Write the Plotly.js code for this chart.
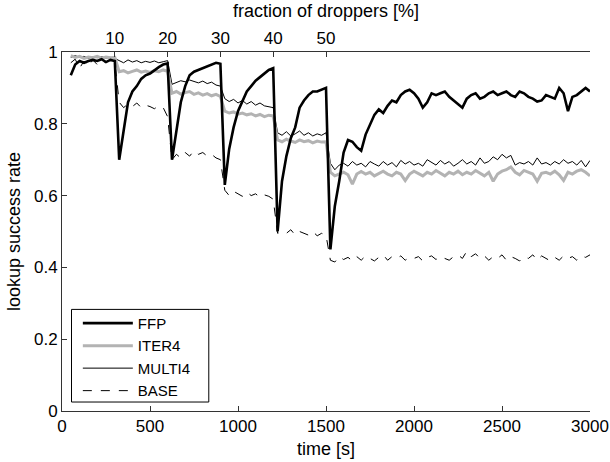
<!DOCTYPE html>
<html>
<head>
<meta charset="utf-8">
<script src="https://cdn.plot.ly/plotly-3.0.1.min.js"></script>
<style>html,body{margin:0;padding:0;background:#fff;}#chart{width:610px;height:462px;}</style>
</head>
<body>
<div id="chart"></div>
<script>
// time axis [s]
const time = [
  50,75,100,125,150,175,200,225,250,275,300,
  325,350,375,400,425,450,475,500,525,550,575,600,
  625,650,675,700,725,750,775,800,825,850,875,900,
  925,950,975,1000,1025,1050,1075,1100,1125,1150,1175,1200,
  1225,1250,1275,1300,1325,1350,1375,1400,1425,1450,1475,1500,
  1525,1550,1575,1600,1625,1650,1675,1700,1725,1750,
  1775,1800,1825,1850,1875,1900,1925,1950,1975,2000,
  2025,2050,2075,2100,2125,2150,2175,2200,2225,2250,
  2275,2300,2325,2350,2375,2400,2425,2450,2475,2500,
  2525,2550,2575,2600,2625,2650,2675,2700,2725,2750,
  2775,2800,2825,2850,2875,2900,2925,2950,2975,3000
];

const ffp = [
  0.935,0.965,0.975,0.97,0.975,0.978,0.975,0.98,0.972,0.978,0.975,
  0.70,0.78,0.86,0.89,0.905,0.925,0.935,0.94,0.95,0.958,0.965,0.968,
  0.70,0.78,0.86,0.905,0.935,0.945,0.95,0.955,0.96,0.965,0.97,0.967,
  0.63,0.73,0.79,0.835,0.865,0.89,0.905,0.92,0.93,0.94,0.95,0.955,
  0.50,0.64,0.71,0.76,0.79,0.845,0.865,0.88,0.89,0.89,0.895,0.90,
  0.45,0.57,0.64,0.72,0.755,0.75,0.735,0.725,0.77,0.80,
  0.825,0.84,0.83,0.85,0.865,0.86,0.88,0.89,0.895,0.885,
  0.87,0.845,0.86,0.885,0.88,0.885,0.89,0.875,0.865,0.855,
  0.845,0.87,0.88,0.885,0.87,0.875,0.885,0.89,0.88,0.885,
  0.89,0.88,0.875,0.89,0.885,0.875,0.87,0.862,0.865,0.88,
  0.875,0.87,0.9,0.885,0.835,0.875,0.88,0.89,0.9,0.89
];

const iter4 = [
  0.99,0.985,0.988,0.982,0.986,0.984,0.988,0.983,0.986,0.984,0.985,
  0.945,0.948,0.942,0.946,0.95,0.944,0.947,0.943,0.948,0.945,0.95,0.946,
  0.885,0.89,0.883,0.887,0.89,0.882,0.886,0.88,0.884,0.878,0.882,0.876,
  0.835,0.83,0.833,0.827,0.83,0.825,0.828,0.822,0.826,0.82,0.824,0.822,
  0.755,0.75,0.757,0.752,0.748,0.755,0.75,0.753,0.747,0.752,0.749,0.75,
  0.665,0.655,0.66,0.665,0.658,0.632,0.66,0.667,0.66,0.665,
  0.655,0.662,0.668,0.66,0.655,0.665,0.66,0.642,0.66,0.668,
  0.662,0.655,0.665,0.66,0.67,0.662,0.655,0.665,0.66,0.668,
  0.658,0.665,0.66,0.67,0.662,0.655,0.665,0.64,0.66,0.668,
  0.672,0.68,0.665,0.658,0.67,0.665,0.66,0.64,0.662,0.665,
  0.66,0.668,0.658,0.642,0.665,0.66,0.668,0.672,0.665,0.655
];

const multi4 = [
  0.985,0.99,0.985,0.988,0.982,0.986,0.984,0.987,0.983,0.985,0.982,
  0.975,0.97,0.978,0.972,0.976,0.97,0.974,0.971,0.975,0.97,0.973,0.976,
  0.91,0.915,0.92,0.917,0.922,0.918,0.914,0.919,0.912,0.916,0.908,0.905,
  0.87,0.862,0.868,0.858,0.865,0.855,0.862,0.852,0.858,0.85,0.848,0.845,
  0.775,0.768,0.778,0.766,0.772,0.78,0.768,0.775,0.766,0.772,0.768,0.775,
  0.69,0.672,0.685,0.69,0.682,0.695,0.685,0.69,0.68,0.695,
  0.688,0.682,0.695,0.685,0.692,0.68,0.698,0.688,0.695,0.685,
  0.69,0.682,0.7,0.692,0.685,0.698,0.688,0.695,0.682,0.69,
  0.7,0.688,0.695,0.685,0.705,0.69,0.695,0.708,0.7,0.715,
  0.705,0.712,0.685,0.692,0.688,0.695,0.685,0.705,0.688,0.692,
  0.685,0.695,0.688,0.7,0.69,0.695,0.685,0.698,0.68,0.698
];

const base = [
  0.97,0.98,0.955,0.975,0.96,0.978,0.965,0.975,0.97,0.98,0.972,
  0.86,0.845,0.855,0.848,0.858,0.845,0.852,0.848,0.842,0.85,0.845,0.82,
  0.70,0.715,0.705,0.72,0.71,0.725,0.715,0.72,0.71,0.715,0.705,0.70,
  0.615,0.60,0.612,0.605,0.598,0.61,0.6,0.605,0.595,0.602,0.598,0.59,
  0.495,0.50,0.495,0.505,0.49,0.5,0.495,0.49,0.5,0.488,0.495,0.49,
  0.42,0.415,0.43,0.422,0.428,0.418,0.43,0.42,0.432,0.425,
  0.418,0.428,0.435,0.42,0.43,0.425,0.432,0.42,0.428,0.425,
  0.43,0.418,0.428,0.432,0.422,0.43,0.425,0.42,0.43,0.435,
  0.425,0.445,0.43,0.438,0.425,0.432,0.42,0.43,0.425,0.435,
  0.42,0.43,0.425,0.418,0.43,0.425,0.435,0.42,0.432,0.425,
  0.418,0.428,0.42,0.432,0.425,0.43,0.42,0.432,0.428,0.435
];

// top axis: fraction of droppers
const dropperTimes = [300, 600, 900, 1200, 1500];
const dropperLabels = ['10', '20', '30', '40', '50'];
const timeTicks = [0, 500, 1000, 1500, 2000, 2500, 3000];

const font = 'Arial';

const traces = [
  {x: time, y: base, name: 'BASE', mode: 'lines', line: {color: '#000', width: 1, dash: 'dash'}, legendrank: 4},
  {x: time, y: multi4, name: 'MULTI4', mode: 'lines', line: {color: '#000', width: 1}, legendrank: 3},
  {x: time, y: iter4, name: 'ITER4', mode: 'lines', line: {color: '#b3b3b3', width: 3}, legendrank: 2},
  {x: time, y: ffp, name: 'FFP', mode: 'lines', line: {color: '#000', width: 2.6}, legendrank: 1},
  // carrier for the top (fraction of droppers) axis; draws nothing
  {x: dropperTimes, y: dropperTimes.map(() => null), xaxis: 'x2', yaxis: 'y', mode: 'lines',
   showlegend: false, hoverinfo: 'skip'}
];

const layout = {
  width: 610, height: 462,
  margin: {l: 62, r: 20, t: 52, b: 51},
  paper_bgcolor: '#fff', plot_bgcolor: '#fff',
  font: {family: font, size: 17, color: '#000'},
  showlegend: true,
  legend: {
    x: 0.03, y: 0.290, xanchor: 'left', yanchor: 'top',
    bgcolor: 'rgba(0,0,0,0)', borderwidth: 0,
    font: {family: font, size: 15, color: '#000'},
    itemwidth: 50, tracegroupgap: 0
  },
  shapes: [{
    type: 'rect', xref: 'paper', yref: 'paper',
    x0: 0.018, x1: 0.278, y0: 0.025, y1: 0.283,
    line: {color: '#000', width: 1}, fillcolor: '#fff', layer: 'below'
  }],
  xaxis: {
    range: [0, 3000], tickvals: timeTicks, ticks: 'inside', ticklen: 5, tickcolor: '#333',
    showline: true, linecolor: '#333', linewidth: 1, mirror: false,
    showgrid: false, zeroline: false,
    tickfont: {size: 17},
    title: {text: 'time [s]', font: {size: 18}, standoff: 6}
  },
  xaxis2: {
    overlaying: 'x', side: 'top', anchor: 'y',
    range: [0, 3000], tickvals: dropperTimes, ticktext: dropperLabels,
    ticks: 'inside', ticklen: 5, tickcolor: '#333',
    showline: true, linecolor: '#333', linewidth: 1,
    showgrid: false, zeroline: false,
    tickfont: {size: 17},
    title: {text: 'fraction of droppers [%]', font: {size: 18}, standoff: 6}
  },
  yaxis: {
    range: [0, 1], dtick: 0.2, tick0: 0, ticks: 'inside', ticklen: 5, tickcolor: '#333',
    showline: true, linecolor: '#333', linewidth: 1, mirror: false,
    showgrid: false, zeroline: false,
    tickfont: {size: 17},
    title: {text: 'lookup success rate', font: {size: 18}, standoff: 8}
  }
};

Plotly.newPlot('chart', traces, layout, {displayModeBar: false, staticPlot: true});
</script>
</body>
</html>
